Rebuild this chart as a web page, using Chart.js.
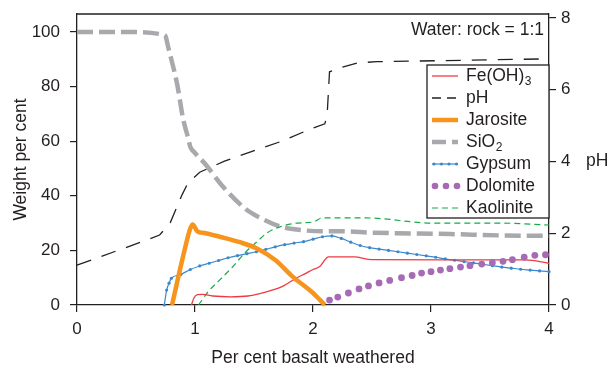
<!DOCTYPE html>
<html><head><meta charset="utf-8">
<script src="https://cdn.jsdelivr.net/npm/chart.js@4.4.1/dist/chart.umd.min.js"></script>
<style>html,body{margin:0;padding:0;background:#fff;}#wrap{position:relative;width:611px;height:369px;}</style>
</head><body><div id="wrap"><canvas id="c" width="611" height="369"></canvas></div>
<script>
// ---- data ----
const xTicks = [0, 1, 2, 3, 4];
const leftTicks = [0, 20, 40, 60, 80, 100];
const rightTicks = [0, 2, 4, 6, 8];

const sio2X = [0, 0.5, 0.73, 0.75, 0.77, 0.85, 0.9, 0.94, 0.96, 1.0, 1.08, 1.24, 1.44, 1.55, 1.72, 1.89, 2.08, 2.25, 2.5, 3.16, 3.58, 4.0];
const sio2Y = [100, 100, 99, 98.5, 95, 80.6, 68, 61.5, 58, 55.7, 52, 43.2, 34.8, 32, 28.8, 27.5, 27, 27, 26.5, 26, 25.5, 25.3];

const phX = [0, 0.59, 0.70, 0.79, 0.89, 0.94, 1.04, 1.25, 1.49, 1.74, 1.96, 2.10, 2.12, 2.14, 2.25, 2.38, 2.54, 4.0];
const phY = [1.11, 1.81, 1.95, 2.29, 3.07, 3.40, 3.70, 4.01, 4.29, 4.57, 4.88, 5.05, 5.3, 6.5, 6.63, 6.75, 6.78, 6.86];

const jarX = [0.805, 0.9, 0.96, 0.98, 1.02, 1.08, 1.21, 1.38, 1.52, 1.68, 1.83, 2.0, 2.06, 2.10];
const jarY = [0, 18, 28, 29.5, 27, 26.4, 25, 23, 20.8, 16.5, 10.3, 4.4, 1.8, 0];

const gypX = [0.74, 0.76, 0.78, 0.80, 0.88, 0.96, 1.04, 1.12, 1.20, 1.28, 1.36, 1.44, 1.52, 1.60, 1.68, 1.76, 1.84, 1.92, 2.00, 2.08, 2.16, 2.24, 2.32, 2.40, 2.48, 2.56, 2.64, 2.72, 2.80, 2.88, 2.96, 3.04, 3.12, 3.20, 3.28, 3.36, 3.44, 3.52, 3.60, 3.68, 3.76, 3.84, 3.92, 4.00];
const gypY = [0, 5.5, 8, 9.8, 11.2, 13, 14.3, 15.3, 16.3, 17.3, 18.1, 18.8, 19.5, 20.4, 21.3, 22.1, 22.7, 23.2, 24.1, 25, 25.3, 24.4, 23, 21.8, 21, 20.5, 20, 19.5, 19, 18.5, 18, 17.5, 16.9, 16.4, 15.9, 15.4, 14.9, 14.4, 13.9, 13.5, 13.1, 12.8, 12.5, 12.2];

const feX = [0.97, 0.99, 1.02, 1.06, 1.15, 1.30, 1.45, 1.55, 1.66, 1.75, 1.86, 1.93, 2.0, 2.06, 2.10, 2.13, 2.35, 2.5, 3.8, 4.0];
const feY = [0, 2.5, 3.8, 3.9, 3.3, 3.0, 3.3, 4.2, 5.5, 7, 9.9, 11.4, 13, 14.2, 16.5, 17.6, 17.6, 16.6, 16.5, 15.3];

const dolX = [2.14, 2.21, 2.30, 2.39, 2.47, 2.56, 2.65, 2.75, 2.84, 2.92, 3.00, 3.08, 3.16, 3.25, 3.33, 3.43, 3.52, 3.61, 3.69, 3.79, 3.88, 3.97];
const dolY = [1.8, 2.9, 4.4, 5.9, 7.0, 8.1, 9.0, 10.0, 10.8, 11.7, 12.2, 12.8, 13.3, 13.9, 14.4, 15.0, 15.5, 16.0, 16.6, 17.5, 18.2, 18.4];

const kaoX = [1.03, 1.11, 1.21, 1.32, 1.42, 1.52, 1.61, 1.72, 1.86, 2.0, 2.08, 2.2, 2.45, 3.02, 3.58, 4.0];
const kaoY = [0, 4.8, 9.2, 14, 19, 23, 26.4, 28.6, 30, 30.4, 31.9, 31.9, 31.9, 30, 30, 29.3];

const pts = (xs, ys) => xs.map((x, i) => ({ x, y: ys[i] }));

const C = {
  fe: '#ee3a43', ph: '#222222', jar: '#f7941d', sio2: '#a7a9ac',
  gyp: '#3b88cc', dol: '#a66bb4', kao: '#17ab4a', axis: '#231f20'
};
const FONT = 'Liberation Sans, Arial, Helvetica, sans-serif';

const legendItems = [
  { label: 'Fe(OH)', sub: '3', kind: 'line', color: C.fe, w: 1.3, dash: [] },
  { label: 'pH', kind: 'line', color: C.ph, w: 1.3, dash: [9, 6] },
  { label: 'Jarosite', kind: 'line', color: C.jar, w: 4.5, dash: [] },
  { label: 'SiO', sub: '2', kind: 'line', color: C.sio2, w: 4.5, dash: [14, 6] },
  { label: 'Gypsum', kind: 'gyp', color: C.gyp, w: 1.2, dash: [] },
  { label: 'Dolomite', kind: 'dots', color: C.dol },
  { label: 'Kaolinite', kind: 'line', color: C.kao, w: 1.2, dash: [6, 4] }
];

const overlay = {
  id: 'overlay',
  afterDraw(chart) {
    const ctx = chart.ctx, a = chart.chartArea;
    ctx.save();
    ctx.strokeStyle = C.axis; ctx.lineWidth = 1.3;
    ctx.beginPath(); ctx.moveTo(a.left, a.top); ctx.lineTo(a.right, a.top); ctx.stroke();
    ctx.fillStyle = C.axis; ctx.font = '17.5px ' + FONT;
    ctx.textAlign = 'right'; ctx.textBaseline = 'middle';
    ctx.fillText('Water: rock = 1:1', a.right - 5, a.top + 16);
    ctx.textAlign = 'left';
    const y2 = chart.scales.y2;
    ctx.fillText('pH', 586, y2.getPixelForValue(4));
    const lx = a.right - 122, ly = a.top + 51, lw = 122, lh = 153;
    ctx.fillStyle = '#fff'; ctx.fillRect(lx, ly, lw, lh);
    ctx.strokeStyle = C.axis; ctx.lineWidth = 1.3; ctx.strokeRect(lx, ly, lw, lh);
    legendItems.forEach((it, i) => {
      const y = ly + 11 + i * 22;
      const x0 = lx + 5, x1 = lx + 31;
      ctx.setLineDash(it.dash || []);
      if (it.kind === 'line' || it.kind === 'gyp') {
        ctx.strokeStyle = it.color; ctx.lineWidth = it.w;
        ctx.beginPath(); ctx.moveTo(x0, y); ctx.lineTo(x1, y); ctx.stroke();
      }
      ctx.setLineDash([]);
      if (it.kind === 'gyp') {
        ctx.fillStyle = it.color;
        for (let k = 0; k < 4; k++) { ctx.beginPath(); ctx.arc(x0 + 2 + k * 7.5, y, 1.6, 0, Math.PI * 2); ctx.fill(); }
      }
      if (it.kind === 'dots') {
        ctx.fillStyle = it.color;
        for (let k = 0; k < 3; k++) { ctx.beginPath(); ctx.arc(x0 + 3 + k * 11, y, 3.3, 0, Math.PI * 2); ctx.fill(); }
      }
      ctx.fillStyle = C.axis; ctx.font = '17.5px ' + FONT; ctx.textAlign = 'left'; ctx.textBaseline = 'middle';
      const tx = lx + 39;
      ctx.fillText(it.label, tx, y);
      if (it.sub) {
        const w = ctx.measureText(it.label).width;
        ctx.font = '12px ' + FONT;
        ctx.fillText(it.sub, tx + w + 0.5, y + 6);
      }
    });
    ctx.restore();
  }
};

const tickFilter = (list) => (scale) => {
  scale.ticks = list.map(v => ({ value: v }));
};

const axisCommon = (extra) => Object.assign({
  grid: { display: true, drawOnChartArea: false, drawTicks: true, tickLength: 7, color: C.axis, lineWidth: 1.2 },
  border: { display: true, color: C.axis, width: 1.3 }
}, extra);

new Chart(document.getElementById('c'), {
  type: 'line',
  data: {
    datasets: [
      { label: 'Fe(OH)3', data: pts(feX, feY), borderColor: C.fe, borderWidth: 1.3, pointRadius: 0, yAxisID: 'y', order: 3, cubicInterpolationMode: 'monotone' },
      { label: 'pH', data: pts(phX, phY), borderColor: C.ph, borderWidth: 1.3, borderDash: [15, 11], pointRadius: 0, yAxisID: 'y2', order: 1, tension: 0 },
      { label: 'Jarosite', data: pts(jarX, jarY), borderColor: C.jar, borderWidth: 4.5, pointRadius: 0, yAxisID: 'y', order: 2, cubicInterpolationMode: 'monotone' },
      { label: 'SiO2', data: pts(sio2X, sio2Y), borderColor: C.sio2, borderWidth: 4.5, borderDash: [16, 6], pointRadius: 0, yAxisID: 'y', order: 6, cubicInterpolationMode: 'monotone' },
      { label: 'Gypsum', data: pts(gypX, gypY), borderColor: C.gyp, backgroundColor: C.gyp, borderWidth: 1.2, pointRadius: 1.6, pointBorderWidth: 0, yAxisID: 'y', order: 4, cubicInterpolationMode: 'monotone' },
      { label: 'Dolomite', data: pts(dolX, dolY), borderColor: C.dol, backgroundColor: C.dol, showLine: false, pointRadius: 3.4, pointBorderWidth: 0, yAxisID: 'y', order: 0 },
      { label: 'Kaolinite', data: pts(kaoX, kaoY), borderColor: C.kao, borderWidth: 1.2, borderDash: [6, 4], pointRadius: 0, yAxisID: 'y', order: 5, cubicInterpolationMode: 'monotone' }
    ]
  },
  options: {
    responsive: false, animation: false, clip: false,
    layout: { padding: { top: 14, left: 0, right: 0, bottom: 0 } },
    plugins: { legend: { display: false }, tooltip: { enabled: false } },
    elements: { line: { fill: false } },
    scales: {
      x: axisCommon({
        type: 'linear', position: 'bottom', min: 0, max: 4,
        afterBuildTicks: tickFilter(xTicks),
        afterFit: (s) => { s.height = 64; s.paddingLeft = 0; s.paddingRight = 0; },
        ticks: { color: C.axis, font: { family: FONT, size: 17 }, padding: 7, maxRotation: 0 },
        title: { display: true, text: 'Per cent basalt weathered', color: C.axis, font: { family: FONT, size: 17.5 }, padding: { top: 0, bottom: 0 } }
      }),
      y: axisCommon({
        type: 'linear', position: 'left', min: 0, max: 106.6,
        afterBuildTicks: tickFilter(leftTicks),
        afterFit: (s) => { s.width = 77; s.paddingTop = 0; s.paddingBottom = 0; },
        ticks: { color: C.axis, font: { family: FONT, size: 17 }, padding: 10 },
        title: { display: true, text: 'Weight per cent', color: C.axis, font: { family: FONT, size: 17.5 }, padding: { top: 11, bottom: 0 } }
      }),
      y2: axisCommon({
        type: 'linear', position: 'right', min: 0, max: 8.11,
        afterBuildTicks: tickFilter(rightTicks),
        afterFit: (s) => { s.width = 62; s.paddingTop = 0; s.paddingBottom = 0; },
        ticks: { color: C.axis, font: { family: FONT, size: 17 }, padding: 5 }
      })
    }
  },
  plugins: [overlay]
});
</script></body></html>
